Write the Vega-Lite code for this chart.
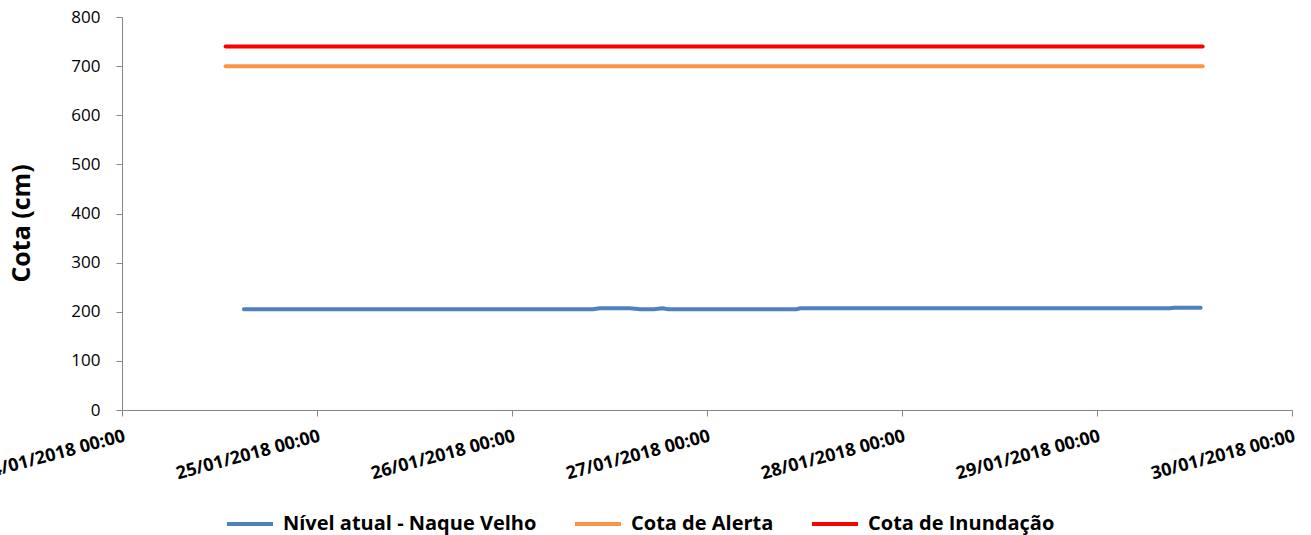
{
  "$schema": "https://vega.github.io/schema/vega-lite/v6.json",
  "autosize": "none",
  "width": 1170,
  "height": 393,
  "padding": {"left": 122, "top": 17, "right": 19, "bottom": 125},
  "background": "white",
  "config": {
    "view": {"stroke": null},
    "font": "Open Sans",
    "axis": {"grid": false, "domainColor": "#868686", "tickColor": "#868686", "labelColor": "#000000", "titleColor": "#000000"}
  },
  "data": {
    "values": [
      {"t": "2018-01-24T15:00:00", "v": 205, "s": "Nível atual - Naque Velho"},
      {"t": "2018-01-26T10:00:00", "v": 205, "s": "Nível atual - Naque Velho"},
      {"t": "2018-01-26T10:45:00", "v": 207, "s": "Nível atual - Naque Velho"},
      {"t": "2018-01-26T14:30:00", "v": 207, "s": "Nível atual - Naque Velho"},
      {"t": "2018-01-26T15:45:00", "v": 205, "s": "Nível atual - Naque Velho"},
      {"t": "2018-01-26T17:30:00", "v": 205, "s": "Nível atual - Naque Velho"},
      {"t": "2018-01-26T18:30:00", "v": 207, "s": "Nível atual - Naque Velho"},
      {"t": "2018-01-26T19:15:00", "v": 205, "s": "Nível atual - Naque Velho"},
      {"t": "2018-01-27T11:00:00", "v": 205, "s": "Nível atual - Naque Velho"},
      {"t": "2018-01-27T11:30:00", "v": 207, "s": "Nível atual - Naque Velho"},
      {"t": "2018-01-29T09:00:00", "v": 207, "s": "Nível atual - Naque Velho"},
      {"t": "2018-01-29T09:30:00", "v": 208, "s": "Nível atual - Naque Velho"},
      {"t": "2018-01-29T12:45:00", "v": 208, "s": "Nível atual - Naque Velho"},
      {"t": "2018-01-24T12:45:00", "v": 700, "s": "Cota de Alerta"},
      {"t": "2018-01-29T13:00:00", "v": 700, "s": "Cota de Alerta"},
      {"t": "2018-01-24T12:45:00", "v": 740, "s": "Cota de Inundação"},
      {"t": "2018-01-29T13:00:00", "v": 740, "s": "Cota de Inundação"}
    ]
  },
  "mark": {"type": "line", "strokeWidth": 4, "strokeCap": "round", "interpolate": "linear"},
  "encoding": {
    "x": {
      "field": "t", "type": "temporal",
      "scale": {"domain": [{"year": 2018, "month": 1, "date": 24}, {"year": 2018, "month": 1, "date": 30}]},
      "axis": {
        "title": null,
        "values": [
          {"year": 2018, "month": 1, "date": 24}, {"year": 2018, "month": 1, "date": 25},
          {"year": 2018, "month": 1, "date": 26}, {"year": 2018, "month": 1, "date": 27},
          {"year": 2018, "month": 1, "date": 28}, {"year": 2018, "month": 1, "date": 29},
          {"year": 2018, "month": 1, "date": 30}
        ],
        "format": "%d/%m/%Y %H:%M",
        "labelAngle": -15,
        "labelAlign": "right",
        "labelBaseline": "top",
        "labelFontSize": 18,
        "labelFontWeight": "bold",
        "labelPadding": 11,
        "labelOverlap": false,
        "labelBound": false,
        "labelFlush": false,
        "tickSize": 6
      }
    },
    "y": {
      "field": "v", "type": "quantitative",
      "scale": {"domain": [0, 800], "nice": false},
      "axis": {
        "title": "Cota (cm)",
        "titleFontSize": 25,
        "titleFontWeight": "bold",
        "titlePadding": 36,
        "titleY": 206,
        "values": [0, 100, 200, 300, 400, 500, 600, 700, 800],
        "labelFontSize": 17,
        "labelPadding": 16,
        "tickSize": 6
      }
    },
    "color": {
      "field": "s", "type": "nominal",
      "scale": {
        "domain": ["Nível atual - Naque Velho", "Cota de Alerta", "Cota de Inundação"],
        "range": ["#4F81BD", "#F79646", "#FF0000"]
      },
      "legend": {
        "title": null,
        "orient": "none",
        "legendX": 103,
        "legendY": 482,
        "direction": "horizontal",
        "symbolType": "stroke",
        "symbolStrokeWidth": 4,
        "symbolSize": 2116,
        "labelFontSize": 20,
        "labelFontWeight": "bold",
        "labelColor": "#000000",
        "columnPadding": 30,
        "labelOffset": 8,
        "labelLimit": 400
      }
    }
  }
}
